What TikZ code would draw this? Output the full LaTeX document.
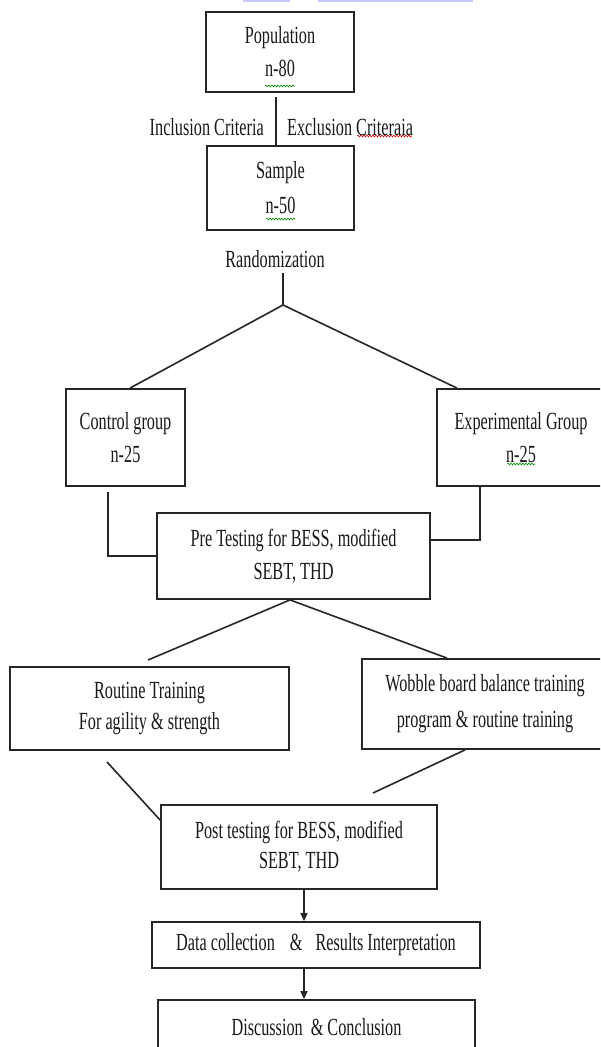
\documentclass[tikz,border=0pt]{standalone}
\usepackage{fontspec}
\setmainfont{Liberation Serif}[FakeStretch=0.66]
\usetikzlibrary{arrows.meta,decorations.pathmorphing}
\begin{document}
\begin{tikzpicture}[x=1pt,y=-1pt,
  box/.style={draw=black!85, line width=1.8pt, inner sep=0pt, align=center,
    font=\fontsize{24.6}{33}\selectfont, text=black!90},
  lbl/.style={inner sep=0pt, font=\fontsize{24.6}{33}\selectfont, text=black!90},
  conn/.style={draw=black!85, line width=1.6pt},
  arr/.style={conn, -{Triangle[length=8pt,width=7pt]}},
  wavy/.style={decorate, decoration={snake, amplitude=0.9pt, segment length=3pt}, line width=0.6pt}]
\clip (0,0) rectangle (600,1047);
\fill[white] (0,0) rectangle (600,1047);
\fill[blue!22!white] (243,0) rectangle (290,2);
\fill[blue!22!white] (318,0) rectangle (473,2);

% top part
\node[box, minimum width=148pt, minimum height=80pt] (pop) at (280,52) {Population\\n-80};
\node[box, minimum width=147pt, minimum height=84pt, font=\fontsize{24.6}{35}\selectfont] (sam) at (280.5,188) {Sample\\n-50};
\coordinate (v1) at (276,97);
\draw[conn] (v1) -- (v1 |- sam.north);
\node[lbl, anchor=east] (inc) at (264,127) {Inclusion Criteria};
\node[lbl, anchor=west] (exc) at (287,127) {Exclusion Criteraia};

\node[lbl] (rand) at (275,259) {Randomization};
\coordinate (r1) at (283,273);
\coordinate (apex) at (283,305);

\node[box, minimum width=119pt, minimum height=97pt] (ctl) at (125.5,437.5) {Control group\\n-25};
\node[box, minimum width=168pt, minimum height=97pt] (exp) at (521,437.5) {Experimental Group\\n-25};
\draw[conn] (r1) -- (apex);
\draw[conn] (apex) -- ([xshift=4.5pt]ctl.north);
\draw[conn] (apex) -- ([xshift=-64pt]exp.north);

\node[box, minimum width=273pt, minimum height=86pt] (pre) at (293.5,556) {Pre Testing for BESS, modified\\SEBT, THD};
\coordinate (c1) at (108,492);
\draw[conn] (c1) |- (pre.west);
\coordinate (e1) at ([xshift=-41pt]exp.south);
\coordinate (e2) at ([yshift=16pt]pre.east);
\draw[conn] (e1) |- (e2);

\node[box, minimum width=279pt, minimum height=83pt, font=\fontsize{24.6}{31}\selectfont] (rou) at (149.5,708.5) {Routine Training\\For agility \& strength};
\node[box, minimum width=246pt, minimum height=90pt, font=\fontsize{24.6}{36}\selectfont] (wob) at (485,704) {Wobble board balance training\\program \& routine training};
\coordinate (p1) at ([xshift=-3.5pt]pre.south);
\coordinate (rt) at (148,660);
\draw[conn] (p1) -- (rt);
\draw[conn] (p1) -- ([xshift=-38pt]wob.north);

\node[box, minimum width=276pt, minimum height=84pt, font=\fontsize{24.6}{30}\selectfont] (post) at (299,847) {Post testing for BESS, modified\\SEBT, THD};
\coordinate (rb) at (107,762);
\draw[conn] (rb) -- ([yshift=27pt]post.west);
\coordinate (wb) at ([xshift=-20pt]wob.south);
\coordinate (pt) at (373,793);
\draw[conn] (wb) -- (pt);

\node[box, minimum width=328pt, minimum height=46pt] (data) at (316,945) {Data collection\hspace{15pt}\&\hspace{13pt}Results Interpretation};
\node[box, minimum width=317pt, minimum height=54pt] (disc) at (316.5,1027) {Discussion\hspace{8pt}\& Conclusion};
\coordinate (a1) at ([xshift=5pt]post.south);
\draw[arr] (a1) -- (a1 |- data.north);
\coordinate (a2) at (a1 |- data.south);
\draw[arr] (a2) -- (a2 |- disc.north);

% spell-check marks
\draw[wavy, red!85!black] (357,136) -- (412,136);
\draw[wavy, green!55!black] (265,86) -- (295,86);
\draw[wavy, green!55!black] (266,219) -- (295,219);
\draw[wavy, green!55!black] (507,464) -- (535,464);
\end{tikzpicture}
\end{document}
